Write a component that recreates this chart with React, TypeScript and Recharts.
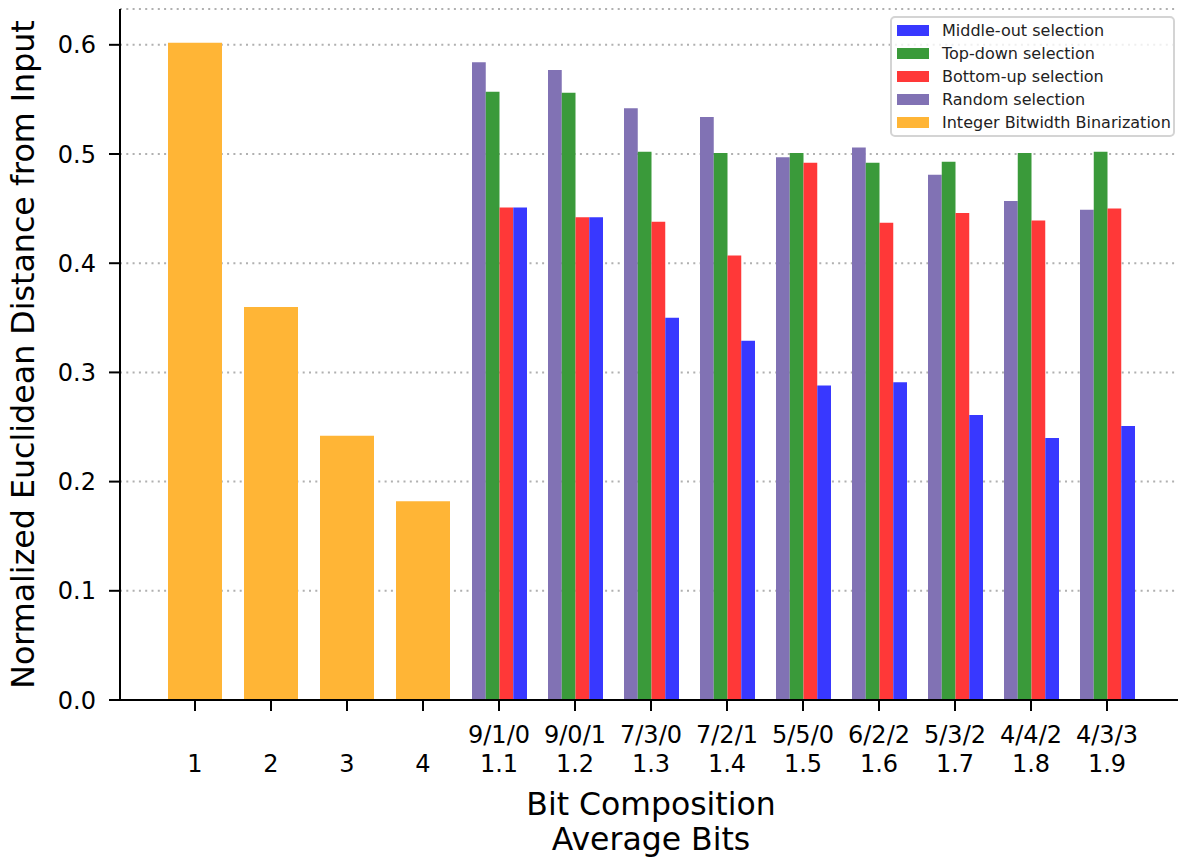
import { BarChart, Bar, XAxis, YAxis, CartesianGrid } from "recharts";

const categories = ["1", "2", "3", "4", "1.1", "1.2", "1.3", "1.4", "1.5", "1.6", "1.7", "1.8", "1.9"];
const compositions = ["", "", "", "", "9/1/0", "9/0/1", "7/3/0", "7/2/1", "5/5/0", "6/2/2", "5/3/2", "4/4/2", "4/3/3"];

const integerBin = [0.602, 0.36, 0.242, 0.182, null, null, null, null, null, null, null, null, null];
const randomSel = [null, null, null, null, 0.584, 0.577, 0.542, 0.534, 0.497, 0.506, 0.481, 0.457, 0.449];
const topDown = [null, null, null, null, 0.557, 0.556, 0.502, 0.501, 0.501, 0.492, 0.493, 0.501, 0.502];
const bottomUp = [null, null, null, null, 0.451, 0.442, 0.438, 0.407, 0.492, 0.437, 0.446, 0.439, 0.45];
const middleOut = [null, null, null, null, 0.451, 0.442, 0.35, 0.329, 0.288, 0.291, 0.261, 0.24, 0.251];

const yTicks = [0, 0.1, 0.2, 0.3, 0.4, 0.5, 0.6];

const data = categories.map((c, i) => ({
  cat: c,
  integer: integerBin[i],
  random: randomSel[i],
  top: topDown[i],
  bottom: bottomUp[i],
  middle: middleOut[i],
}));

const FONT = "DejaVu Sans";
const C = {
  blue: "#3838ff",
  green: "#3a9a3a",
  red: "#ff3838",
  purple: "#8172b4",
  orange: "#ffb536",
};

const legendItems = [
  { label: "Middle-out selection", color: C.blue },
  { label: "Top-down selection", color: C.green },
  { label: "Bottom-up selection", color: C.red },
  { label: "Random selection", color: C.purple },
  { label: "Integer Bitwidth Binarization", color: C.orange },
];

function XTick(props: any) {
  const { x, y, payload } = props;
  const comp = compositions[categories.indexOf(payload.value)];
  return (
    <g fontFamily={FONT} fontSize={24} fill="#000">
      {comp && (
        <text x={x} y={y + 32} textAnchor="middle">
          {comp}
        </text>
      )}
      <text x={x} y={y + 60.5} textAnchor="middle">
        {payload.value}
      </text>
    </g>
  );
}

function XTitle(props: any) {
  const vb = props.viewBox || { x: 0, y: 0, width: 0 };
  const cx = vb.x + vb.width / 2;
  return (
    <g fontFamily={FONT} fontSize={31.5} fill="#000">
      <text x={cx} y={815} textAnchor="middle">Bit Composition</text>
      <text x={cx} y={850} textAnchor="middle">Average Bits</text>
    </g>
  );
}

function YTitle(props: any) {
  const vb = props.viewBox || { y: 0, height: 0 };
  const cy = vb.y + vb.height / 2;
  return (
    <text
      x={34}
      y={cy}
      transform={`rotate(-90, 34, ${cy})`}
      textAnchor="middle"
      fontFamily={FONT}
      fontSize={31.7}
      fill="#000"
    >
      Normalized Euclidean Distance from Input
    </text>
  );
}

export default function App() {
  return (
    <div
      style={{
        position: "absolute",
        left: 0,
        top: 0,
        width: 1178,
        height: 857,
        overflow: "hidden",
        background: "#fff",
      }}
    >
      <BarChart
        width={1190}
        height={857}
        data={data}
        margin={{ top: 9, right: 8, bottom: 0, left: 0 }}
        barGap={0}
        barCategoryGap={0}
      >
        <CartesianGrid vertical={false} stroke="#b0b0b0" strokeWidth={2} strokeDasharray="2 4.3" />
        <XAxis
          dataKey="cat"
          height={157}
          padding={{ left: 37, right: 37 }}
          interval={0}
          tickSize={11}
          tickMargin={0}
          tickLine={{ stroke: "#000", strokeWidth: 2 }}
          axisLine={{ stroke: "#000", strokeWidth: 2 }}
          tick={<XTick />}
          label={<XTitle />}
        />
        <XAxis
          xAxisId="top"
          dataKey="cat"
          orientation="top"
          height={0}
          padding={{ left: 37, right: 37 }}
          tick={false}
          tickLine={false}
          axisLine={{ stroke: "#000", strokeWidth: 2 }}
        />
        <YAxis
          width={120}
          domain={[0, 0.6328]}
          ticks={yTicks}
          interval={0}
          allowDataOverflow
          tickFormatter={(v: number) => v.toFixed(1)}
          tickSize={11}
          tickMargin={13}
          tickLine={{ stroke: "#000", strokeWidth: 2 }}
          axisLine={{ stroke: "#000", strokeWidth: 2 }}
          tick={{ fontFamily: FONT, fontSize: 24, fill: "#000" }}
          label={<YTitle />}
        />
        <Bar dataKey="random" fill={C.purple} barSize={13.75} isAnimationActive={false} />
        <Bar dataKey="top" fill={C.green} barSize={13.75} isAnimationActive={false} />
        <Bar dataKey="bottom" fill={C.red} barSize={13.75} isAnimationActive={false} />
        <Bar dataKey="middle" fill={C.blue} barSize={13.75} isAnimationActive={false} />
        <Bar dataKey="integer" xAxisId="top" fill={C.orange} barSize={54} isAnimationActive={false} />
      </BarChart>
      <div
        style={{
          position: "absolute",
          left: 890,
          top: 16,
          width: 285,
          height: 121,
          boxSizing: "border-box",
          border: "2px solid #d4d4d4",
          borderRadius: 5,
          background: "rgba(255,255,255,0.8)",
          paddingTop: 0.5,
          paddingLeft: 5,
          fontFamily: FONT,
          fontSize: 16,
          color: "#222",
        }}
      >
        {legendItems.map((it) => (
          <div key={it.label} style={{ display: "flex", alignItems: "center", height: 23.2 }}>
            <span style={{ width: 32, height: 11, background: it.color, marginRight: 13, flex: "none" }} />
            <span style={{ whiteSpace: "nowrap" }}>{it.label}</span>
          </div>
        ))}
      </div>
    </div>
  );
}
